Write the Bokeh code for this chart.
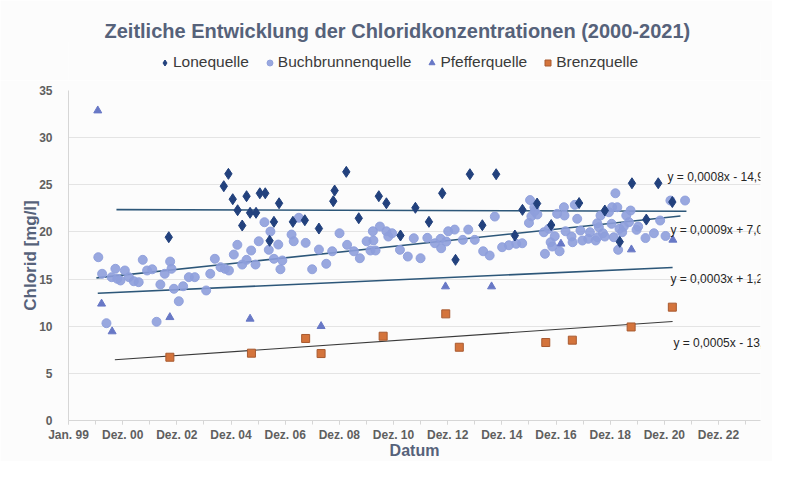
from bokeh.plotting import figure
from bokeh.layouts import column
from bokeh.models import Legend, LegendItem, FixedTicker, Label, Range1d
from bokeh.embed import file_html
from bokeh.resources import INLINE

TITLE = "Zeitliche Entwicklung der Chloridkonzentrationen (2000-2021)"
X_LABEL = "Datum"
Y_LABEL = "Chlorid [mg/l]"
SERIES = ["Lonequelle", "Buchbrunnenquelle", "Pfefferquelle", "Brenzquelle"]

# decimal years and chloride values (mg/l)
lone_year = [2002.70, 2004.73, 2004.90, 2005.06, 2005.24, 2005.41, 2005.57, 2005.70, 2005.92,
             2006.06, 2006.26, 2006.42, 2006.58, 2006.77, 2007.28, 2007.72, 2008.24, 2008.77,
             2008.82, 2009.25, 2009.71, 2010.45, 2010.73, 2011.25, 2011.80, 2012.30, 2012.79,
             2013.28, 2013.81, 2014.27, 2014.78, 2015.47, 2015.75, 2016.29, 2016.81, 2017.84,
             2018.79, 2019.34, 2019.79, 2020.32, 2020.76, 2021.28]
lone_val = [19.44, 24.85, 26.16, 23.47, 22.30, 20.68, 23.79, 22.03, 22.03,
            24.10, 24.10, 19.06, 21.07, 23.04, 21.07, 21.24, 20.36, 23.26,
            24.39, 26.37, 21.45, 23.79, 23.04, 19.62, 22.56, 21.07, 24.10,
            17.04, 26.12, 20.71, 26.12, 19.62, 22.34, 23.01, 20.73, 23.06,
            22.27, 18.95, 25.16, 21.31, 25.16, 23.17]

buch_year = [2000.10, 2000.24, 2000.40, 2000.59, 2000.73, 2000.80, 2000.92, 2001.08, 2001.23,
             2001.41, 2001.59, 2001.74, 2001.90, 2002.09, 2002.25, 2002.39, 2002.55, 2002.75,
             2002.80, 2002.89, 2003.07, 2003.23, 2003.44, 2003.66, 2004.08, 2004.23, 2004.40,
             2004.61, 2004.77, 2004.92, 2005.10, 2005.23, 2005.41, 2005.57, 2005.74, 2005.90,
             2006.02, 2006.23, 2006.39, 2006.45, 2006.58, 2006.74, 2006.82, 2006.89, 2007.23,
             2007.31, 2007.50, 2007.75, 2007.99, 2008.24, 2008.51, 2008.73, 2009.00, 2009.28,
             2009.53, 2009.75, 2010.00, 2010.14, 2010.23, 2010.25, 2010.33, 2010.49, 2010.73,
             2010.80, 2010.94, 2011.23, 2011.52, 2011.74, 2011.99, 2012.24, 2012.52, 2012.73,
             2012.75, 2012.94, 2013.01, 2013.25, 2013.55, 2013.75, 2013.99, 2014.30, 2014.54,
             2014.73, 2015.00, 2015.25, 2015.52, 2015.74, 2015.99, 2016.03, 2016.08, 2016.19,
             2016.20, 2016.30, 2016.54, 2016.58, 2016.72, 2016.79, 2016.85, 2016.94, 2017.03,
             2017.12, 2017.28, 2017.30, 2017.34, 2017.56, 2017.60, 2017.68, 2017.77, 2017.89,
             2017.96, 2018.18, 2018.24, 2018.45, 2018.51, 2018.52, 2018.57, 2018.63, 2018.72,
             2018.79, 2018.94, 2019.04, 2019.06, 2019.12, 2019.18, 2019.25, 2019.28, 2019.33,
             2019.43, 2019.49, 2019.58, 2019.68, 2019.74, 2019.96, 2020.02, 2020.29, 2020.60,
             2020.83, 2021.03, 2021.21, 2021.75]
buch_val = [17.32, 15.56, 10.32, 15.20, 16.09, 15.03, 14.85, 15.91, 15.20,
            14.77, 14.67, 17.04, 15.91, 16.04, 10.47, 14.42, 15.56, 16.86,
            16.09, 13.97, 12.65, 14.24, 15.20, 15.20, 13.79, 15.56, 17.15,
            16.26, 16.09, 15.91, 17.60, 18.63, 16.54, 17.04, 18.03, 16.54,
            19.01, 21.03, 18.10, 20.04, 17.15, 18.66, 16.04, 16.97, 19.72,
            19.01, 21.50, 18.84, 16.04, 18.13, 16.62, 17.95, 19.86, 18.63,
            17.95, 17.21, 19.01, 18.03, 20.07, 19.09, 18.03, 20.57, 20.07,
            19.51, 19.86, 18.10, 17.39, 19.33, 17.21, 19.37, 18.80, 19.27,
            18.27, 18.98, 20.07, 20.25, 19.16, 20.25, 19.16, 17.95, 17.50,
            21.63, 18.38, 18.59, 18.74, 18.80, 20.96, 23.38, 21.66, 22.62,
            22.20, 21.85, 19.97, 17.68, 20.33, 18.91, 18.45, 19.54, 21.92,
            17.95, 22.62, 21.74, 20.07, 19.51, 18.91, 22.87, 21.39, 20.15,
            19.09, 19.27, 19.97, 19.09, 20.92, 19.44, 20.50, 21.74, 19.86,
            19.51, 22.09, 20.86, 22.62, 19.44, 24.10, 22.62, 18.10, 20.33,
            19.97, 20.57, 21.74, 21.03, 22.27, 20.22, 20.57, 19.35, 19.86,
            21.21, 19.57, 23.33, 23.33]

pfeffer_year = [2000.08, 2000.22, 2000.61, 2002.74, 2005.70, 2008.32, 2012.91, 2014.61,
                2017.17, 2019.77, 2021.30]
pfeffer_val = [32.87, 12.38, 9.44, 10.95, 10.78, 10.00, 14.21, 14.21, 18.74, 18.13, 19.16]

brenz_year = [2002.74, 2005.75, 2007.75, 2008.32, 2010.61, 2012.92, 2013.42, 2016.61,
              2017.59, 2019.76, 2021.28]
brenz_val = [6.71, 7.14, 8.70, 7.10, 8.94, 11.31, 7.77, 8.27, 8.52, 9.92, 12.02]

# trend lines (start / end) as drawn in the picture
trend_year = {"Lonequelle": [2000.77, 2021.80], "Buchbrunnenquelle": [2000.03, 2021.58],
              "Pfefferquelle": [2000.08, 2021.29], "Brenzquelle": [2000.71, 2021.29]}
trend_val = {"Lonequelle": [22.37, 22.20], "Buchbrunnenquelle": [15.13, 21.69],
             "Pfefferquelle": [13.50, 16.22], "Brenzquelle": [6.44, 10.50]}
trend_text = ["y = 0,0008x - 14,925", "y = 0,0009x + 7,0171",
              "y = 0,0003x + 1,2092", "y = 0,0005x - 13,634"]
trend_text_year = [2021.10, 2021.21, 2021.21, 2021.32]
trend_text_val = [25.87, 20.25, 15.06, 8.17]

tick_labels = ["Jan. 99", "Dez. 00", "Dez. 02", "Dez. 04", "Dez. 06", "Dez. 08", "Dez. 10",
               "Dez. 12", "Dez. 14", "Dez. 16", "Dez. 18", "Dez. 20", "Dez. 22"]
y_ticks = [0, 5, 10, 15, 20, 25, 30, 35]

BASE = 1999.0
def days(years):
    return [(v - BASE) * 365.25 for v in years]

tick_days = [i * 730 for i in range(len(tick_labels))]
minor_days = [i * 365 for i in range(2 * len(tick_labels) + 1)]

FONT = "Liberation Sans"
TXT = "#56627a"
BG = "#fcfcfc"

STYLE = {
    "Lonequelle": dict(marker="diamond", size=11, fill_color="#22417d", line_color="#22417d"),
    "Buchbrunnenquelle": dict(marker="circle", size=9, fill_color="#8e9fdb",
                              line_color="#8e9fdb", fill_alpha=0.9, line_alpha=0.9),
    "Pfefferquelle": dict(marker="triangle", size=8, fill_color="#6878c6", line_color="#6878c6"),
    "Brenzquelle": dict(marker="square", size=8, fill_color="#d4743c", line_color="#a85a30"),
}
SERIES_DATA = {"Lonequelle": (lone_year, lone_val),
               "Buchbrunnenquelle": (buch_year, buch_val),
               "Pfefferquelle": (pfeffer_year, pfeffer_val),
               "Brenzquelle": (brenz_year, brenz_val)}

# ---------------- header: title + legend ----------------
h = figure(width=772, height=80, output_backend="svg", toolbar_location=None,
           x_axis_location=None, y_axis_location=None,
           x_range=Range1d(0, 1), y_range=Range1d(0, 1),
           min_border_left=0, min_border_right=0, min_border_top=41, min_border_bottom=0,
           background_fill_color=BG, border_fill_color=BG)
h.outline_line_color = None
h.grid.visible = False
h.title.text = TITLE
h.title.align = "left"
h.title.offset = 36
h.title.standoff = 0
h.title.text_font = FONT
h.title.text_font_size = "20px"
h.title.text_color = TXT

# legend proxies: first point of each series, lying outside the header's ranges
items = []
for name in SERIES:
    yrs, vals = SERIES_DATA[name]
    r = h.scatter(x=days(yrs[:1]), y=vals[:1], **STYLE[name])
    items.append(LegendItem(label=name, renderers=[r]))
legend = Legend(items=items, orientation="horizontal", location=(89, 9),
                background_fill_alpha=0, border_line_color=None,
                label_text_font=FONT, label_text_font_size="15.5px", label_text_color="#3a3a3a",
                glyph_width=15, glyph_height=15, label_standoff=1, spacing=13,
                padding=0, margin=0, label_height=16)
h.add_layout(legend, "center")

# ---------------- main chart ----------------
p = figure(width=772, height=381, output_backend="svg", toolbar_location=None,
           title_location=None,
           x_range=Range1d(0, 9326), y_range=Range1d(0, 35),
           min_border_left=68, min_border_right=12, min_border_top=10, min_border_bottom=41,
           background_fill_color=BG, border_fill_color=BG)
p.outline_line_color = None

xa = p.xaxis[0]
xa.ticker = FixedTicker(ticks=tick_days, minor_ticks=minor_days)
xa.major_label_overrides = {t: l for t, l in zip(tick_days, tick_labels)}
xa.axis_label = X_LABEL
xa.axis_label_text_font = FONT
xa.axis_label_text_font_size = "16px"
xa.axis_label_text_font_style = "bold"
xa.axis_label_text_color = TXT
xa.axis_label_standoff = -3
xa.major_label_text_font = FONT
xa.major_label_text_font_size = "12px"
xa.major_label_text_font_style = "bold"
xa.major_label_text_color = "#5f5f5f"
xa.major_label_standoff = 3
xa.axis_line_color = "#d6d6d6"
xa.major_tick_line_color = "#d6d6d6"
xa.minor_tick_line_color = "#d6d6d6"
xa.major_tick_in = 0
xa.major_tick_out = 4
xa.minor_tick_in = 0
xa.minor_tick_out = 4

ya = p.yaxis[0]
ya.ticker = FixedTicker(ticks=y_ticks)
ya.axis_label = Y_LABEL
ya.axis_label_text_font = FONT
ya.axis_label_text_font_size = "17px"
ya.axis_label_text_font_style = "bold"
ya.axis_label_text_color = TXT
ya.axis_label_standoff = -4
ya.major_label_text_font = FONT
ya.major_label_text_font_size = "12px"
ya.major_label_text_font_style = "bold"
ya.major_label_text_color = "#5f5f5f"
ya.major_label_standoff = 10
ya.axis_line_color = "#d6d6d6"
ya.major_tick_line_color = None
ya.minor_tick_line_color = None

p.xgrid.grid_line_color = None
p.ygrid.grid_line_color = "#e4e4e4"
p.ygrid.grid_line_width = 1

LINE_COLORS = {"Lonequelle": "#2d5779", "Buchbrunnenquelle": "#2d5779",
               "Pfefferquelle": "#2d5779", "Brenzquelle": "#3a3a3a"}
LINE_WIDTHS = {"Lonequelle": 1.6, "Buchbrunnenquelle": 1.6, "Pfefferquelle": 1.6,
               "Brenzquelle": 1.1}
for name in SERIES:
    p.line(days(trend_year[name]), trend_val[name], line_color=LINE_COLORS[name],
           line_width=LINE_WIDTHS[name])

for name in ["Buchbrunnenquelle", "Lonequelle", "Pfefferquelle", "Brenzquelle"]:
    yrs, vals = SERIES_DATA[name]
    p.scatter(days(yrs), vals, **STYLE[name])

for t, yr, v in zip(trend_text, trend_text_year, trend_text_val):
    p.add_layout(Label(x=(yr - BASE) * 365.25, y=v, text=t, text_font=FONT,
                       text_font_size="12px", text_color="#262626",
                       text_baseline="middle", text_align="left"))

layout = column(h, p, spacing=0)
open("out.html", "w").write(file_html(layout, INLINE))
